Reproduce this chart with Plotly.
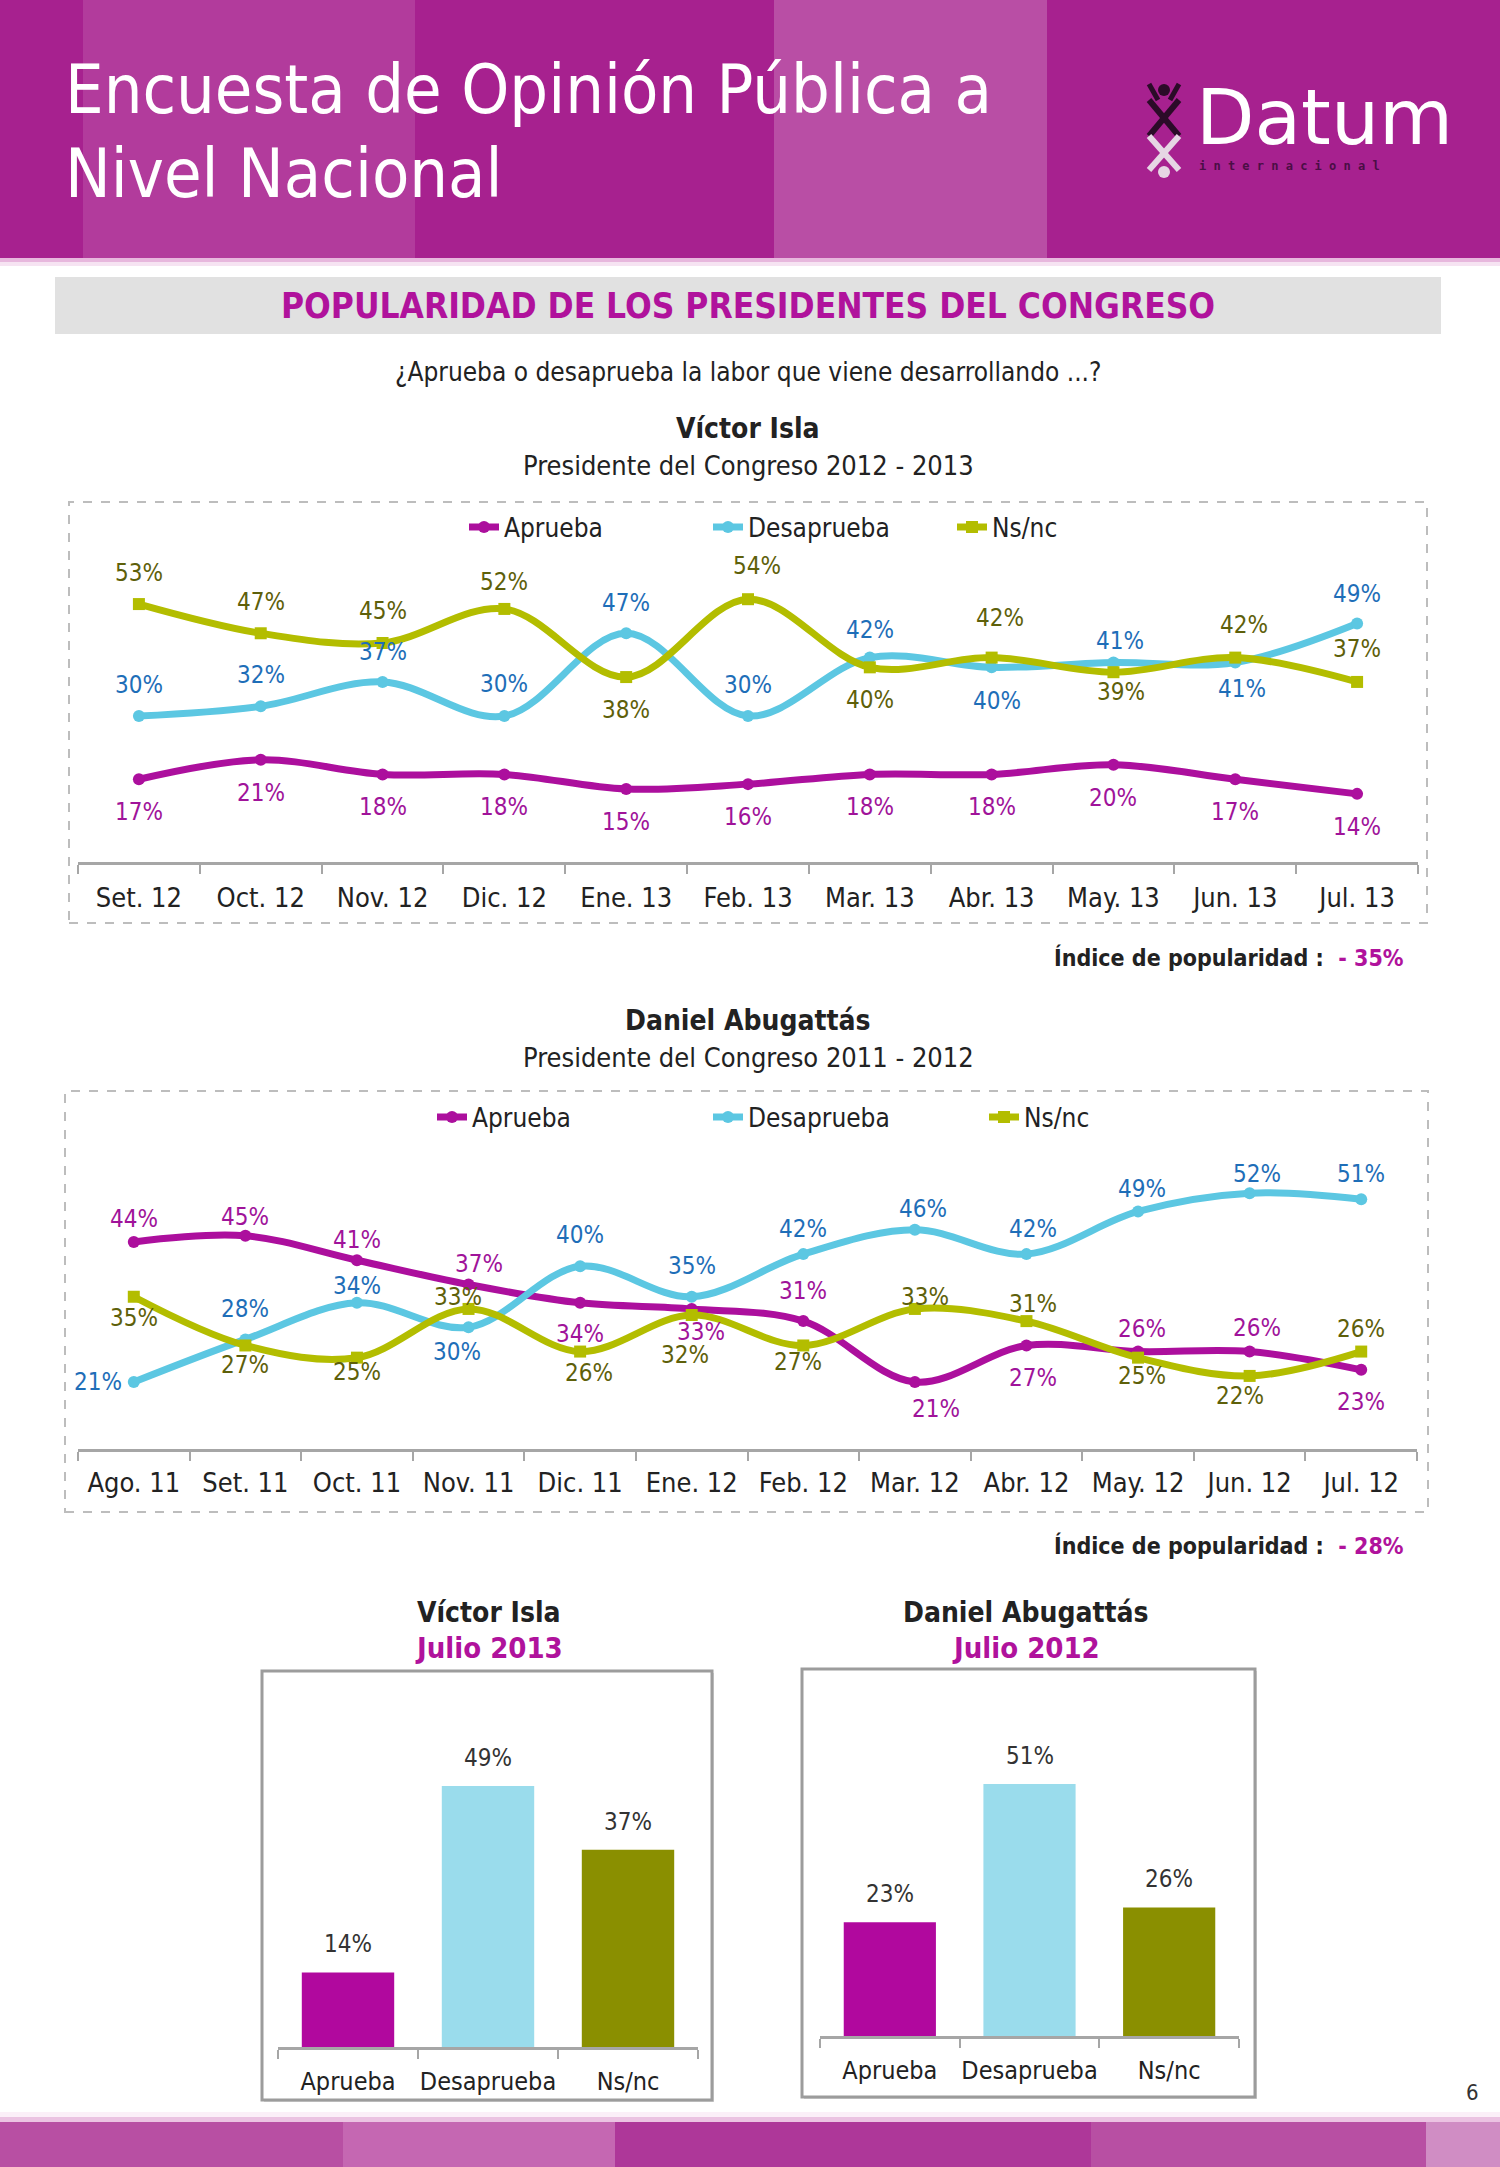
import plotly.graph_objects as go

W, H = 1500, 2167
F = "DejaVu Sans Condensed, DejaVu Sans, sans-serif"

# ---------------- data ----------------
c1_months = ["Set. 12", "Oct. 12", "Nov. 12", "Dic. 12", "Ene. 13", "Feb. 13",
             "Mar. 13", "Abr. 13", "May. 13", "Jun. 13", "Jul. 13"]
c1_aprueba = [17, 21, 18, 18, 15, 16, 18, 18, 20, 17, 14]
c1_desaprueba = [30, 32, 37, 30, 47, 30, 42, 40, 41, 41, 49]
c1_nsnc = [53, 47, 45, 52, 38, 54, 40, 42, 39, 42, 37]

c2_months = ["Ago. 11", "Set. 11", "Oct. 11", "Nov. 11", "Dic. 11", "Ene. 12",
             "Feb. 12", "Mar. 12", "Abr. 12", "May. 12", "Jun. 12", "Jul. 12"]
c2_aprueba = [44, 45, 41, 37, 34, 33, 31, 21, 27, 26, 26, 23]
c2_desaprueba = [21, 28, 34, 30, 40, 35, 42, 46, 42, 49, 52, 51]
c2_nsnc = [35, 27, 25, 33, 26, 32, 27, 33, 31, 25, 22, 26]

bar_cats = ["Aprueba", "Desaprueba", "Ns/nc"]
bar_isla = [14, 49, 37]
bar_abugattas = [23, 51, 26]

series_names = ["Aprueba", "Desaprueba", "Ns/nc"]
indice_isla = "- 35%"
indice_abugattas = "- 28%"

# label placement (pixel shifts, positive = up / right)
c1_ys = {"Aprueba": [-33] * 11,
         "Desaprueba": [31, 31, 30, 32, 30, 31, 28, -34, 21, -27, 30],
         "Ns/nc": [31, 31, 32, 27, -33, 33, -33, 40, -20, 33, 33]}
c1_xs = {"Aprueba": [0] * 11,
         "Desaprueba": [0, 0, 0, 0, 0, 0, 0, 5, 7, 7, 0],
         "Ns/nc": [0, 0, 0, 0, 0, 9, 0, 8, 8, 9, 0]}
c2_ys = {"Aprueba": [23, 19, 20, 21, -31, -23, 30, -27, -33, 23, 24, -32],
         "Desaprueba": [0, 30, 17, -25, 31, 31, 25, 21, 25, 22, 19, 25],
         "Ns/nc": [-21, -20, -14, 12, -21, -40, -17, 12, 17, -18, -20, 23]}
c2_xs = {"Aprueba": [0, 0, 0, 10, 0, 9, 0, 21, 7, 4, 7, 0],
         "Desaprueba": [-36, 0, 0, -12, 0, 0, 0, 8, 7, 4, 7, 0],
         "Ns/nc": [0, 0, 0, -11, 9, -7, -5, 10, 7, 4, -10, 0]}

# ---------------- styles ----------------
LINE_COL = {"Aprueba": "#AC0F9D", "Desaprueba": "#5CC7E2", "Ns/nc": "#B3BD00"}
TEXT_COL = {"Aprueba": "#A0139A", "Desaprueba": "#1E6EB8", "Ns/nc": "#5E600A"}
BAR_COL = ["#B1089E", "#9ADCEC", "#8A8F00"]
SYMBOL = {"Aprueba": "circle", "Desaprueba": "circle", "Ns/nc": "square"}
MAGENTA = "#B0129C"


def X(p):
    return p / W


def Y(p):
    return 1 - p / H


fig = go.Figure()

charts = [
    ("x", "y", "legend", c1_months,
     {"Aprueba": c1_aprueba, "Desaprueba": c1_desaprueba, "Ns/nc": c1_nsnc}, c1_ys, c1_xs),
    ("x2", "y2", "legend2", c2_months,
     {"Aprueba": c2_aprueba, "Desaprueba": c2_desaprueba, "Ns/nc": c2_nsnc}, c2_ys, c2_xs),
]

annotations = []
for xa, ya, lg, months, data, ys, xs in charts:
    for name in series_names:
        fig.add_trace(go.Scatter(
            x=months, y=data[name], name=name, mode="lines+markers",
            xaxis=xa, yaxis=ya, legend=lg, cliponaxis=False,
            line=dict(color=LINE_COL[name], width=7, shape="spline", smoothing=1.0),
            marker=dict(color=LINE_COL[name], size=12, symbol=SYMBOL[name]),
            hoverinfo="skip"))
        for i, (m, v) in enumerate(zip(months, data[name])):
            annotations.append(dict(
                x=m, y=v, xref=xa, yref=ya, text=f"{v}%", showarrow=False,
                yshift=ys[name][i], xshift=xs[name][i],
                font=dict(family=F, size=24, color=TEXT_COL[name])))

for xa, ya, vals in [("x3", "y3", bar_isla), ("x4", "y4", bar_abugattas)]:
    fig.add_trace(go.Bar(x=bar_cats, y=vals, xaxis=xa, yaxis=ya, showlegend=False,
                         marker=dict(color=BAR_COL, line=dict(width=0)), width=0.66,
                         hoverinfo="skip"))
    for c, v in zip(bar_cats, vals):
        annotations.append(dict(x=c, y=v, xref=xa, yref=ya, text=f"{v}%", showarrow=False,
                                yshift=28, font=dict(family=F, size=24, color="#333333")))


def txt(x, y, text, size, color="#222222", bold=False, anchor="center", family=F):
    if bold:
        text = f"<b>{text}</b>"
    annotations.append(dict(x=X(x), y=Y(y), xref="paper", yref="paper", text=text,
                            showarrow=False, xanchor=anchor, yanchor="middle",
                            font=dict(family=family, size=size, color=color)))


# header texts
txt(63, 90, "Encuesta de Opinión Pública a", 68, "white", anchor="left")
txt(63, 174, "Nivel Nacional", 68, "white", anchor="left")
txt(1194, 118, "Datum", 76, "white", anchor="left", family="DejaVu Sans, sans-serif")
txt(1197, 166, "\u00a0".join("internacional"), 12, "#4A0E45", bold=True, anchor="left",
    family="DejaVu Sans Mono, monospace")

txt(748, 306, "POPULARIDAD DE LOS PRESIDENTES DEL CONGRESO", 35, MAGENTA, bold=True)
txt(748, 372, "¿Aprueba o desaprueba la labor que viene desarrollando ...?", 26)
txt(748, 428, "Víctor Isla", 28, bold=True)
txt(748, 465, "Presidente del Congreso 2012 - 2013", 27)
txt(1406, 957, f"Índice de popularidad :  <span style='color:{MAGENTA}'>{indice_isla}</span>",
    23, bold=True, anchor="right")
txt(748, 1021, "Daniel Abugattás", 28, bold=True)
txt(748, 1057, "Presidente del Congreso 2011 - 2012", 27)
txt(1406, 1545, f"Índice de popularidad :  <span style='color:{MAGENTA}'>{indice_abugattas}</span>",
    23, bold=True, anchor="right")

txt(489, 1612, "Víctor Isla", 28, bold=True)
txt(489, 1648, "Julio 2013", 29, MAGENTA, bold=True)
txt(1026, 1612, "Daniel Abugattás", 28, bold=True)
txt(1026, 1648, "Julio 2012", 29, MAGENTA, bold=True)
txt(1472, 2092, "6", 22, "#333333")

# ---------------- shapes ----------------
shapes = []


def rect(x0, y0, x1, y1, fill=None, line=None, dash=None, lw=0, layer="below"):
    shapes.append(dict(type="rect", xref="paper", yref="paper",
                       x0=X(x0), x1=X(x1), y0=Y(y1), y1=Y(y0),
                       fillcolor=fill if fill else "rgba(0,0,0,0)",
                       line=dict(color=line if line else "rgba(0,0,0,0)", width=lw,
                                 dash=dash if dash else "solid"),
                       layer=layer))


# header band
rect(0, 0, W, 258, fill="#A7218F")
rect(83, 0, 415, 258, fill="#B23B9C")
rect(774, 0, 1047, 258, fill="#B94EA5")
rect(0, 258, W, 262, fill="#E7B7DD")
rect(0, 262, W, 266, fill="#F6E3F2")


# logo icon
def seg(x0, y0, x1, y1, color, w):
    shapes.append(dict(type="line", xref="paper", yref="paper", x0=X(x0), y0=Y(y0),
                       x1=X(x1), y1=Y(y1), line=dict(color=color, width=w), layer="above"))


seg(1149, 100, 1179, 136, "#2B0B28", 6)
seg(1179, 100, 1149, 136, "#2B0B28", 6)
seg(1149, 84, 1158, 100, "#2B0B28", 5)
seg(1179, 84, 1170, 100, "#2B0B28", 5)
shapes.append(dict(type="circle", xref="paper", yref="paper", x0=X(1158), x1=X(1170),
                   y0=Y(96), y1=Y(84), fillcolor="#2B0B28", line=dict(width=0)))
seg(1149, 136, 1179, 170, "#E6D6E4", 6)
seg(1179, 136, 1149, 170, "#E6D6E4", 6)
shapes.append(dict(type="circle", xref="paper", yref="paper", x0=X(1158), x1=X(1170),
                   y0=Y(178), y1=Y(166), fillcolor="#E6D6E4", line=dict(width=0)))

# section title bar
rect(55, 277, 1441, 334, fill="#E1E1E1")

# chart frames
rect(69, 502, 1427, 923, line="#BDBDBD", dash="dash", lw=2)
rect(65, 1091, 1428, 1512, line="#BDBDBD", dash="dash", lw=2)
rect(264, 1673, 714, 2102, fill="#D9D9D9")
rect(262, 1671, 712, 2100, fill="white", line="#9C9C9C", lw=3)
rect(804, 1671, 1257, 2099, fill="#D9D9D9")
rect(802, 1669, 1255, 2097, fill="white", line="#9C9C9C", lw=3)

# footer band
rect(0, 2112, W, 2117, fill="#FBEFF8")
rect(0, 2117, W, 2122, fill="#EBC3E2")
rect(0, 2122, 343, H, fill="#B84FA3")
rect(343, 2122, 615, H, fill="#C567B2")
rect(615, 2122, 1091, H, fill="#AE3799")
rect(1091, 2122, 1426, H, fill="#B84FA3")
rect(1426, 2122, W, H, fill="#D08DC4")


# ---------------- axes ----------------
def xaxis_cfg(x0, x1, n, anchor, size=27, standoff=10):
    return dict(domain=[X(x0), X(x1)], anchor=anchor, type="category",
                range=[-0.5, n - 0.5], showline=True, linecolor="#A6A6A6", linewidth=3,
                ticks="outside", tickson="boundaries", ticklen=9, tickwidth=2,
                tickcolor="#A6A6A6", showgrid=False, zeroline=False, tickangle=0,
                tickfont=dict(family=F, size=size, color="#222222"),
                ticklabelstandoff=standoff, fixedrange=True)


def yaxis_cfg(ybot, ytop, rng, anchor):
    return dict(domain=[Y(ybot), Y(ytop)], anchor=anchor, range=rng, visible=False,
                showgrid=False, zeroline=False, fixedrange=True)


legend_common = dict(orientation="h", xanchor="left", yanchor="middle",
                     font=dict(family=F, size=26, color="#222222"),
                     bgcolor="rgba(0,0,0,0)", entrywidthmode="pixels",
                     itemclick=False, itemdoubleclick=False)

fig.update_layout(
    width=W, height=H, autosize=False,
    margin=dict(l=0, r=0, t=0, b=0),
    paper_bgcolor="white", plot_bgcolor="rgba(0,0,0,0)",
    font=dict(family=F, color="#222222"),
    xaxis=xaxis_cfg(78, 1418, len(c1_months), "y"),
    yaxis=yaxis_cfg(862, 570, [0, 60], "x"),
    xaxis2=xaxis_cfg(78, 1417, len(c2_months), "y2", standoff=8),
    yaxis2=yaxis_cfg(1449, 1144.5, [10, 60], "x2"),
    xaxis3=xaxis_cfg(278, 698, 3, "y3", size=25),
    yaxis3=yaxis_cfg(2047, 1674, [0, 70], "x3"),
    xaxis4=xaxis_cfg(820, 1239, 3, "y4", size=25),
    yaxis4=yaxis_cfg(2036, 1690, [0, 70], "x4"),
    legend=dict(x=X(464), y=Y(527), entrywidth=199, **legend_common),
    legend2=dict(x=X(432), y=Y(1117), entrywidth=231, **legend_common),
    annotations=annotations,
    shapes=shapes,
    showlegend=True,
    bargap=0.34,
)

fig.write_html("out.html", config={"displayModeBar": False},
               post_script="document.body.style.margin='0px';")
